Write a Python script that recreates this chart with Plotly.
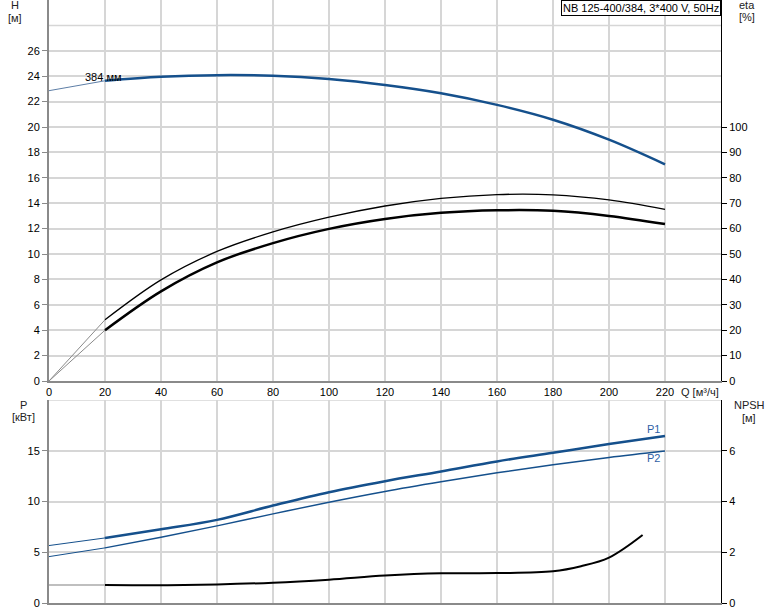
import plotly.graph_objects as go

# ---- data ----
q = [0, 20, 40, 60, 80, 100, 120, 140, 160, 180, 200, 220]
head = [22.86, 23.64, 23.95, 24.08, 24.03, 23.77, 23.3, 22.65, 21.74, 20.57, 19.0, 17.06]
eta_pump = [0, 24.1, 39.8, 51.0, 58.7, 64.5, 68.9, 71.9, 73.4, 73.3, 71.3, 67.6]
eta_total = [0, 20.0, 35.3, 46.7, 54.3, 59.9, 63.8, 66.2, 67.2, 67.0, 65.0, 61.8]
p1 = [5.66, 6.41, 7.27, 8.19, 9.6, 10.92, 12.0, 12.96, 13.95, 14.8, 15.66, 16.45]
p2 = [4.57, 5.43, 6.48, 7.6, 8.78, 9.93, 10.99, 11.94, 12.83, 13.62, 14.34, 14.97]
q_npsh = [0, 20, 40, 60, 80, 100, 120, 140, 160, 180, 190, 200, 212]
npsh = [0.71, 0.71, 0.70, 0.73, 0.80, 0.92, 1.08, 1.17, 1.18, 1.25, 1.45, 1.79, 2.68]

x_ticks = [0, 20, 40, 60, 80, 100, 120, 140, 160, 180, 200, 220]
h_ticks = list(range(0, 27, 2))
eta_ticks = list(range(0, 101, 10))
p_ticks = [0, 5, 10, 15]
npsh_ticks = [0, 2, 4, 6]

title_text = "NB 125-400/384, 3*400 V, 50Hz"
curve_label = "384 мм"

BLUE = "#15508c"
LBLUE = "#2f5fa6"
GRID = "#d6d6d6"
AX = "#8a8a8a"
FONT = "Liberation Sans, Arial, sans-serif"

W, H = 774, 611
L, R, T, B = 49, 53, 0, 8
PW, PH = W - L - R, H - T - B


def px(x):
    return (x - L) / PW


def py(y):
    return (H - B - y) / PH


fig = go.Figure()

# Head curve
fig.add_trace(go.Scatter(x=q[:2], y=head[:2], mode="lines", xaxis="x", yaxis="y",
                         line=dict(color="#5d7ea6", width=1)))
fig.add_trace(go.Scatter(x=q[1:], y=head[1:], mode="lines", xaxis="x", yaxis="y",
                         line=dict(color=BLUE, width=2.5, shape="spline")))

# Efficiency curves
fig.add_trace(go.Scatter(x=q[:2], y=eta_pump[:2], mode="lines", xaxis="x", yaxis="y2",
                         line=dict(color="#8a8a8a", width=1)))
fig.add_trace(go.Scatter(x=q[:2], y=eta_total[:2], mode="lines", xaxis="x", yaxis="y2",
                         line=dict(color="#8a8a8a", width=1)))
fig.add_trace(go.Scatter(x=q[1:], y=eta_pump[1:], mode="lines", xaxis="x", yaxis="y2",
                         line=dict(color="black", width=1.3, shape="spline")))
fig.add_trace(go.Scatter(x=q[1:], y=eta_total[1:], mode="lines", xaxis="x", yaxis="y2",
                         line=dict(color="black", width=2.5, shape="spline")))

# Power curves
fig.add_trace(go.Scatter(x=q[:2], y=p2[:2], mode="lines", xaxis="x2", yaxis="y3",
                         line=dict(color=BLUE, width=1)))
fig.add_trace(go.Scatter(x=q[:2], y=p1[:2], mode="lines", xaxis="x2", yaxis="y3",
                         line=dict(color=BLUE, width=1)))
fig.add_trace(go.Scatter(x=q[1:], y=p2[1:], mode="lines", xaxis="x2", yaxis="y3",
                         line=dict(color=BLUE, width=1.4, shape="spline")))
fig.add_trace(go.Scatter(x=q[1:], y=p1[1:], mode="lines", xaxis="x2", yaxis="y3",
                         line=dict(color=BLUE, width=2.5, shape="spline")))

# NPSH curve
fig.add_trace(go.Scatter(x=q_npsh[:2], y=npsh[:2], mode="lines", xaxis="x2", yaxis="y4",
                         line=dict(color="#aaaaaa", width=1.5)))
fig.add_trace(go.Scatter(x=q_npsh[1:], y=npsh[1:], mode="lines", xaxis="x2", yaxis="y4",
                         line=dict(color="black", width=2, shape="spline")))

tickfont = dict(family=FONT, size=11, color="black")

fig.update_layout(
    width=W, height=H,
    margin=dict(l=L, r=R, t=T, b=B),
    paper_bgcolor="white", plot_bgcolor="white",
    showlegend=False,
    font=dict(family=FONT, size=11, color="black"),
    xaxis=dict(domain=[0, 1], anchor="y", range=[0, 240], tickvals=x_ticks,
               showgrid=True, gridcolor=GRID, gridwidth=1.5, zeroline=False,
               showline=True, linecolor=AX, linewidth=2, ticks="", tickfont=tickfont,
               automargin=False),
    yaxis=dict(domain=[py(381), 1], anchor="x", range=[0, 30], tickvals=h_ticks,
               showgrid=True, gridcolor=GRID, gridwidth=1.5, zeroline=False,
               showline=True, linecolor=AX, linewidth=2, ticks="outside", ticklen=5,
               tickcolor=AX, tickfont=tickfont, automargin=False),
    yaxis2=dict(overlaying="y", side="right", anchor="x", range=[0, 150], tickvals=eta_ticks,
                showgrid=False, zeroline=False, showline=True, linecolor="black", linewidth=1,
                ticks="outside", ticklen=5, tickcolor="black", tickfont=tickfont,
                automargin=False),
    xaxis2=dict(domain=[0, 1], anchor="y3", range=[0, 240], tickvals=x_ticks,
                showticklabels=False, showgrid=True, gridcolor=GRID, gridwidth=1.5,
                zeroline=False, showline=True, linecolor=AX, linewidth=2, ticks="",
                automargin=False),
    yaxis3=dict(domain=[0, py(400)], anchor="x2", range=[0, 20], tickvals=p_ticks,
                showgrid=True, gridcolor=GRID, gridwidth=1.5, zeroline=False,
                showline=True, linecolor=AX, linewidth=2, ticks="outside", ticklen=5,
                tickcolor=AX, tickfont=tickfont, automargin=False),
    yaxis4=dict(overlaying="y3", side="right", anchor="x2", range=[0, 8], tickvals=npsh_ticks,
                showgrid=False, zeroline=False, showline=True, linecolor="black", linewidth=1,
                ticks="outside", ticklen=5, tickcolor="black", tickfont=tickfont,
                automargin=False),
    shapes=[
        dict(type="line", xref="x", yref="y", x0=0, x1=240, y0=28, y1=28,
             line=dict(color=GRID, width=1.5), layer="below"),
        dict(type="line", xref="x2", yref="y3", x0=0, x1=240, y0=20, y1=20,
             line=dict(color=GRID, width=1.5), layer="below"),
    ],
)

ann = []


def label(text, x, y, xanchor="center", color="#222", size=11, **kw):
    ann.append(dict(text=text, x=px(x), y=py(y), xref="paper", yref="paper",
                    xanchor=xanchor, yanchor="middle", showarrow=False,
                    font=dict(family=FONT, size=size, color=color), **kw))


label("H", 15, 5)
label("[м]", 15, 18)
label("eta", 747, 5)
label("[%]", 747, 17)
label("P", 23, 405)
label("[кВт]", 23, 417)
label("NPSH", 749, 405)
label("[м]", 749, 418)
label("Q [м³/ч]", 700, 392)
label(curve_label, 83, 77, xanchor="left", color="black")
label("P1", 653, 429, color=LBLUE)
label("P2", 653, 458, color=LBLUE)

ann.append(dict(text=title_text, x=1, y=1, xref="paper", yref="paper",
                xanchor="right", yanchor="top", showarrow=False,
                bordercolor="black", borderwidth=1, borderpad=1, bgcolor="white",
                font=dict(family=FONT, size=11, color="black")))

fig.update_layout(annotations=ann)

fig.write_html(
    "out.html",
    config={"displayModeBar": False},
    post_script="document.body.style.margin='0';document.body.style.padding='0';"
                "document.body.style.overflow='hidden';",
)
